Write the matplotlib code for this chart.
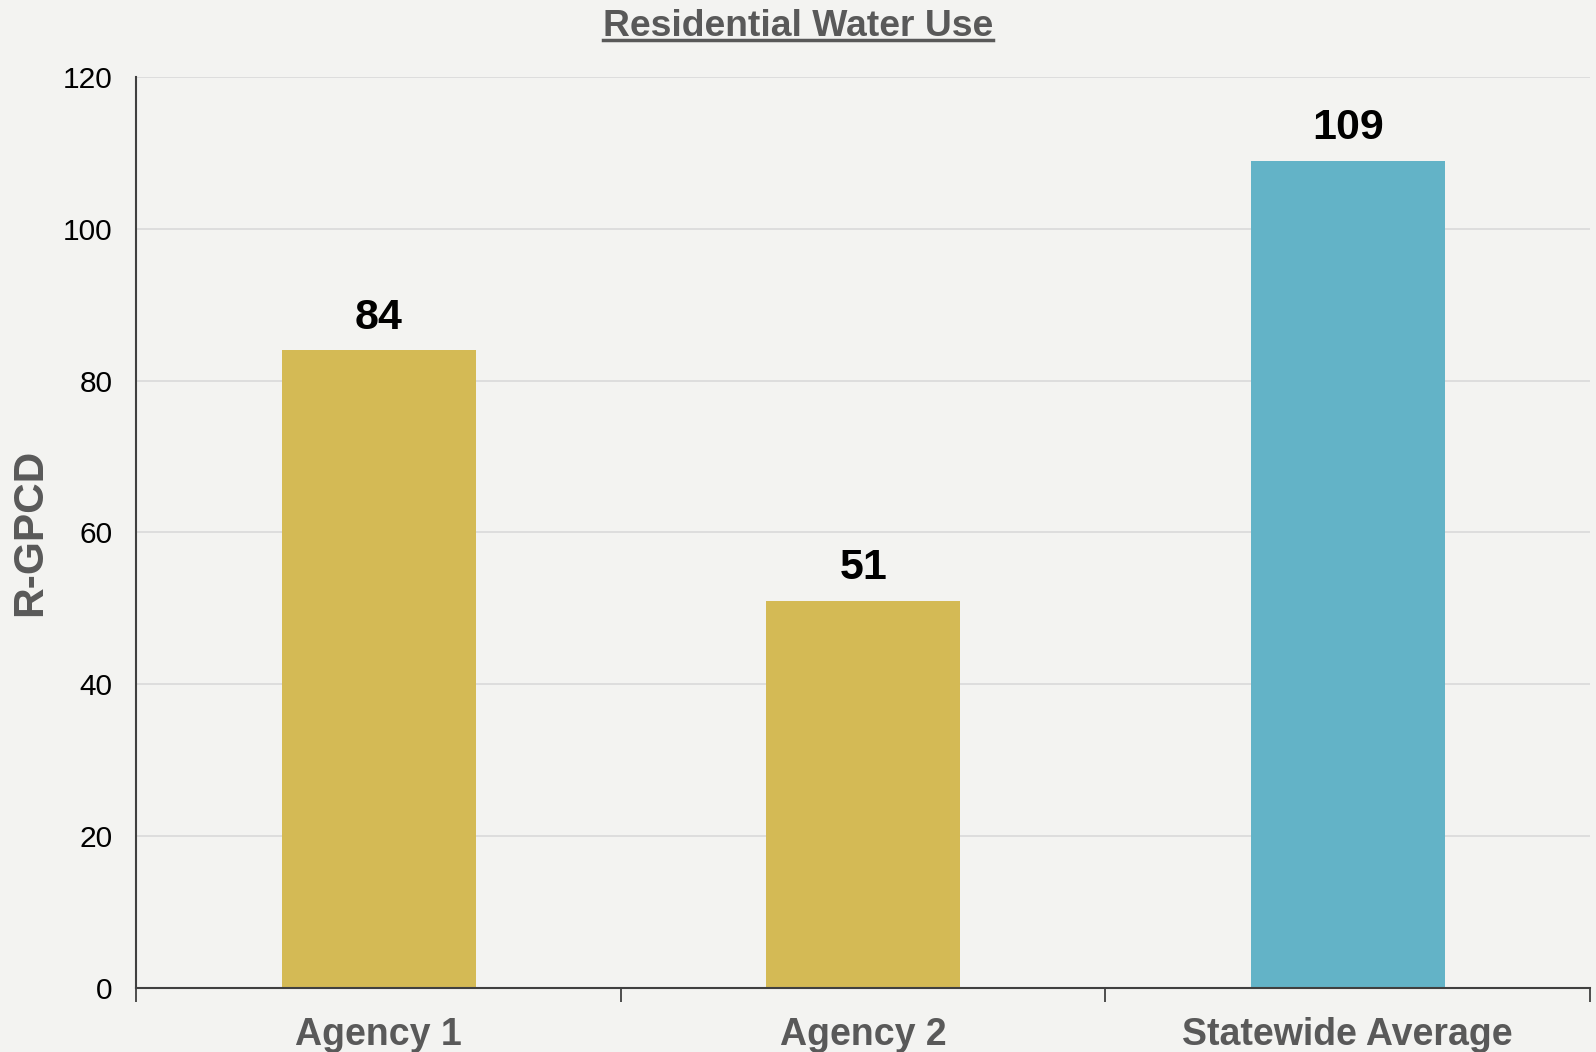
import matplotlib
matplotlib.use("Agg")
import matplotlib.pyplot as plt
from matplotlib.lines import Line2D

categories = ["Agency 1", "Agency 2", "Statewide Average"]
values = [84, 51, 109]
bar_colors = ["#D4BA55", "#D4BA55", "#63B3C7"]
yticks = [0, 20, 40, 60, 80, 100, 120]

plt.rcParams["font.family"] = ["Liberation Sans", "DejaVu Sans"]

bg = "#F3F3F1"
gray_text = "#595959"

fig = plt.figure(figsize=(15.96, 10.52), dpi=100, facecolor=bg)
ax = fig.add_axes([0.0855, 0.0613, 0.9107, 0.8651], facecolor=bg)

x = list(range(len(categories)))
ax.bar(x, values, width=0.4, color=bar_colors, zorder=3)

for xi, v in zip(x, values):
    ax.annotate(str(v), (xi, v), xytext=(0, 9), textcoords="offset points",
                ha="center", va="bottom", fontsize=31, fontweight="bold",
                color="black")

ax.set_xlim(-0.5, len(categories) - 0.5)
ax.set_ylim(0, 120)
ax.set_yticks(yticks)
ax.set_yticklabels([str(t) for t in yticks], fontsize=21.5, color="black")
ax.tick_params(axis="y", length=0, pad=17)

ax.set_xticks(x)
ax.set_xticklabels(categories, fontsize=27, fontweight="bold", color=gray_text)
ax.tick_params(axis="x", which="major", length=0, pad=21)
ax.set_xticks([i - 0.5 for i in range(len(categories) + 1)], minor=True)
ax.tick_params(axis="x", which="minor", length=10, width=1.3, color="#404040",
               direction="out")

ax.grid(axis="y", color="#D9D9D9", linewidth=1.2, zorder=0)
ax.set_axisbelow(True)

for side in ("top", "right"):
    ax.spines[side].set_visible(False)
for side in ("left", "bottom"):
    ax.spines[side].set_color("#404040")
    ax.spines[side].set_linewidth(1.5)
    ax.spines[side].set_zorder(4)

# Vertical axis title
fig.text(30.5 / 1596, 1 - 532.5 / 1052, "R-GPCD", rotation=90, ha="center",
         va="center", fontsize=30.5, fontweight="bold", color=gray_text)

# Underlined title centred on the figure
title = fig.text(0.5, 1 - 36 / 1052, "Residential Water Use", ha="center",
                 va="baseline", fontsize=26.8, fontweight="bold", color=gray_text)
fig.canvas.draw()
bb = title.get_window_extent()
uy = 1 - 40 / 1052
fig.add_artist(Line2D([bb.x0 / fig.bbox.width, bb.x1 / fig.bbox.width], [uy, uy],
                      transform=fig.transFigure, color=gray_text, linewidth=2.5))

fig.savefig("out.png", dpi=100, facecolor=bg)
